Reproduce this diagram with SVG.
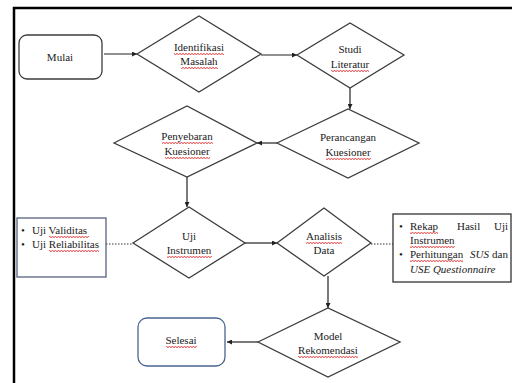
<svg xmlns="http://www.w3.org/2000/svg" width="512" height="383" viewBox="0 0 512 383" font-family="'Liberation Serif', 'DejaVu Serif', serif">
<defs>
<style>
text{font-family:'Liberation Serif','DejaVu Serif',serif;font-size:11px;fill:#1a1a1a}
.c{text-anchor:middle}
.i{font-style:italic}
.dia{fill:#fff;stroke:#3c3c3c;stroke-width:1.3}
.term{fill:#fff;stroke-width:1.3}
.conn{stroke:#222;stroke-width:1.2;fill:none}
.dot{stroke:#333;stroke-width:1;stroke-dasharray:1.5 1.5;fill:none}
.sq{fill:url(#wave)}
</style>
<marker id="ah" viewBox="0 0 6 6" refX="6" refY="3" markerWidth="5" markerHeight="5" orient="auto" markerUnits="userSpaceOnUse">
<path d="M0,0 L6,3 L0,6 z" fill="#222"/>
</marker>
<pattern id="wave" width="3" height="2" patternUnits="userSpaceOnUse">
<path d="M0,1.5 L1.5,0.5 L3,1.5" stroke="#e01c1c" stroke-width="0.9" fill="none"/>
</pattern>
</defs>
<rect width="512" height="383" fill="#fff"/>
<rect x="14" y="8" width="600" height="500" fill="none" stroke="#000" stroke-width="2.5"/>

<g id="connectors">
<line class="conn" x1="104" y1="54" x2="137" y2="54" marker-end="url(#ah)"/>
<line class="conn" x1="261" y1="55" x2="297" y2="55" marker-end="url(#ah)"/>
<line class="conn" x1="350" y1="88" x2="350" y2="109" marker-end="url(#ah)"/>
<line class="conn" x1="277" y1="143" x2="257" y2="143" marker-end="url(#ah)"/>
<line class="conn" x1="187" y1="177" x2="187" y2="207" marker-end="url(#ah)"/>
<line class="conn" x1="245" y1="243" x2="277" y2="243" marker-end="url(#ah)"/>
<line class="conn" x1="328" y1="276" x2="328" y2="308" marker-end="url(#ah)"/>
<line class="conn" x1="258" y1="342" x2="227" y2="342" marker-end="url(#ah)"/>
<line class="dot" x1="106" y1="244" x2="133" y2="244"/>
<line class="dot" x1="371" y1="244" x2="393" y2="244"/>
</g>

<g id="mulai">
<rect class="term" x="19" y="35" width="83" height="44" rx="8" stroke="#3c3c3c"/>
<text class="c" x="60" y="61">Mulai</text>
</g>

<g id="identifikasi">
<polygon class="dia" points="137,54 199,16 261,54 199,92"/>
<text class="c" x="199" y="51">Identifikasi</text>
<text class="c" x="199" y="65">Masalah</text>
<rect class="sq" x="174" y="53" width="50" height="2"/>
<rect class="sq" x="181" y="67" width="37" height="2"/>
</g>

<g id="studi">
<polygon class="dia" points="297,55 350,23 404,55 350,88"/>
<text class="c" x="350" y="53">Studi</text>
<text class="c" x="350" y="68">Literatur</text>
<rect class="sq" x="331" y="70" width="38" height="2"/>
</g>

<g id="perancangan">
<polygon class="dia" points="277,143 348,109 419,143 348,178"/>
<text class="c" x="348" y="141">Perancangan</text>
<text class="c" x="348" y="156">Kuesioner</text>
<rect class="sq" x="326" y="158" width="45" height="2"/>
</g>

<g id="penyebaran">
<polygon class="dia" points="114,143 187,106 257,143 187,177"/>
<text class="c" x="187" y="140">Penyebaran</text>
<text class="c" x="187" y="155">Kuesioner</text>
<rect class="sq" x="162" y="142" width="51" height="2"/>
<rect class="sq" x="165" y="157" width="45" height="2"/>
</g>

<g id="uji-instrumen">
<polygon class="dia" points="133,243 189,207 245,243 189,278"/>
<text class="c" x="189" y="240">Uji</text>
<text class="c" x="189" y="254">Instrumen</text>
<rect class="sq" x="167" y="256" width="45" height="2"/>
</g>

<g id="analisis">
<polygon class="dia" points="277,243 324,208 371,243 324,276"/>
<text class="c" x="324" y="240">Analisis</text>
<text class="c" x="324" y="254">Data</text>
<rect class="sq" x="306" y="242" width="36" height="2"/>
</g>

<g id="model">
<polygon class="dia" points="258,342 328,308 400,342 328,377"/>
<text class="c" x="328" y="340">Model</text>
<text class="c" x="328" y="354">Rekomendasi</text>
<rect class="sq" x="298" y="356" width="60" height="2"/>
</g>

<g id="selesai">
<rect class="term" x="138" y="318" width="87" height="48" rx="9" stroke="#4a6490"/>
<text class="c" x="181" y="344">Selesai</text>
<rect class="sq" x="166" y="346" width="31" height="2"/>
</g>

<g id="uji-box">
<rect x="17" y="218" width="89" height="59" fill="#fff" stroke="#56627e" stroke-width="1.3"/>
<text x="21" y="234">•</text>
<text x="32" y="234">Uji Validitas</text>
<text x="21" y="248">•</text>
<text x="32" y="248">Uji Reliabilitas</text>
<rect class="sq" x="49" y="236" width="40" height="2"/>
<rect class="sq" x="49" y="250" width="50" height="2"/>
</g>

<g id="analisis-box">
<rect x="393" y="214" width="118" height="68" fill="#fff" stroke="#333" stroke-width="1.3"/>
<text x="399" y="230">•</text>
<text x="410" y="230">Rekap</text>
<text x="457" y="230">Hasil</text>
<text x="508" y="230" text-anchor="end">Uji</text>
<text x="410" y="244">Instrumen</text>
<text x="399" y="258">•</text>
<text x="410" y="258">Perhitungan</text>
<text class="i" x="470" y="258">SUS</text>
<text x="508" y="258" text-anchor="end">dan</text>
<text class="i" x="410" y="273">USE Questionnaire</text>
<rect class="sq" x="410" y="232" width="28" height="2"/>
<rect class="sq" x="410" y="246" width="45" height="2"/>
<rect class="sq" x="410" y="260" width="53" height="2"/>
</g>
</svg>
